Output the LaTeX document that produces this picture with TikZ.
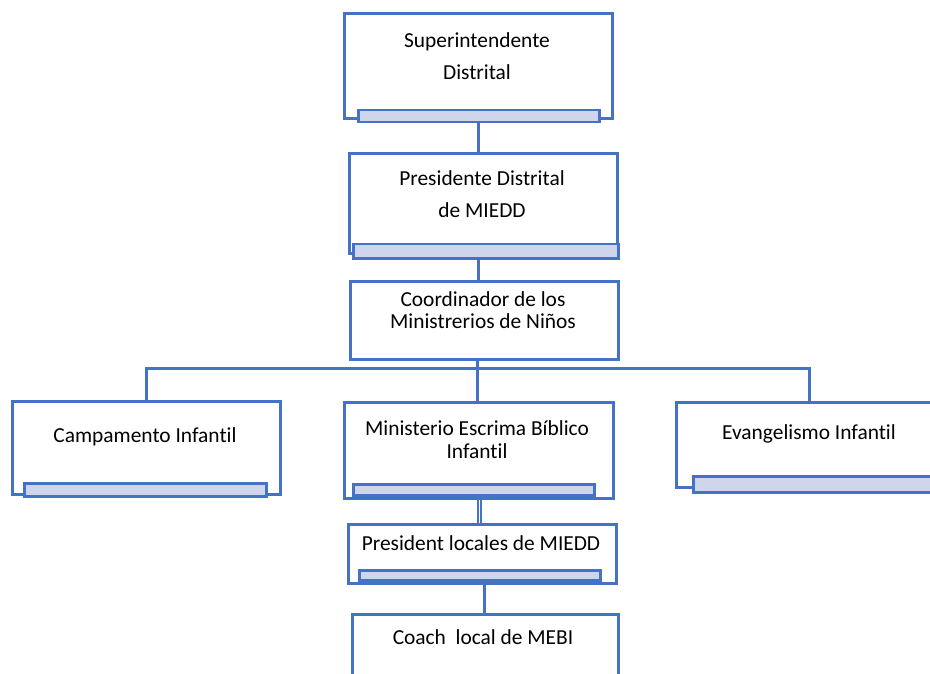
\documentclass[tikz,border=0pt]{standalone}
\usepackage{fontspec}
\setmainfont{Carlito}[Ligatures=NoCommon]
\definecolor{obl}{HTML}{4472C4}
\definecolor{barf}{HTML}{CFD5EA}
\begin{document}
\begin{tikzpicture}[x=1pt,y=-1pt,
  box/.style={draw=obl, line width=2.8pt, fill=white, inner sep=0pt, anchor=north west},
  bar/.style={draw=obl, line width=2.5pt, fill=barf, inner sep=0pt, anchor=north west},
  link/.style={draw=obl, line width=3pt},
  lbl/.style={font=\fontsize{21.4}{23}\selectfont, align=center, text=black}]
\useasboundingbox (0,0) rectangle (930,674);
\clip (0,0) rectangle (930,674);
% boxes
\node[box, minimum width=268pt, minimum height=105pt] (sup) at (343,12) {};
\node[bar, minimum width=241pt, minimum height=12pt] (supbar) at (357,109) {};
\node[box, minimum width=268pt, minimum height=100pt] (pd) at (348,152) {};
\node[bar, minimum width=265pt, minimum height=14pt] (pdbar) at (352,243) {};
\node[box, minimum width=268pt, minimum height=78pt] (coord) at (349,280) {};
\node[box, minimum width=268pt, minimum height=93pt] (camp) at (11,400) {};
\node[bar, minimum width=242pt, minimum height=13pt] (campbar) at (23,482) {};
\node[box, minimum width=269pt, minimum height=96pt] (mebi) at (343,401) {};
\node[bar, minimum width=241pt, minimum height=11pt] (mebibar) at (352,483) {};
\node[box, minimum width=300pt, minimum height=85pt] (evan) at (675,401) {};
\node[bar, minimum width=290pt, minimum height=16pt] (evanbar) at (692,475) {};
\node[box, minimum width=268pt, minimum height=59pt] (pl) at (347,523) {};
\node[bar, minimum width=241pt, minimum height=10pt] (plbar) at (358,569) {};
\node[box, minimum width=266pt, minimum height=100pt] (coach) at (351,613) {};
% labels
\node[lbl, font=\fontsize{21.4}{32}\selectfont] (tsup) at (477,56) {Superintendente\\Distrital};
\node[lbl, font=\fontsize{21.4}{32}\selectfont] (tpd) at (482,194) {Presidente Distrital\\de MIEDD};
\node[lbl, font=\fontsize{21.4}{22}\selectfont] (tcoord) at (483,310) {Coordinador de los\\Ministrerios de Niños};
\node[lbl] (tcamp) at (145,437) {Campamento Infantil};
\node[lbl] (tmebi) at (477,440) {Ministerio Escrima Bíblico\\Infantil};
\node[lbl] (tevan) at (809,434) {Evangelismo Infantil};
\node[lbl] (tpl) at (481,543) {President locales de MIEDD};
\node[lbl] (tcoach) at (483,637) {Coach\ \ local de MEBI};
% connector points
\coordinate (hub) at (477,368);
\coordinate (ev) at (809,368);
\coordinate (dl) at (479.5,0);
\coordinate (cl) at (484,0);
% connectors
\draw[link] (supbar.south) -- (supbar.south |- pd.north);
\draw[link] (sup.south |- pdbar.south) -- (sup.south |- coord.north);
\draw[link] (hub |- coord.south) -- (hub);
\draw[link] (camp.north) |- (hub) -- (ev) -- (ev |- evan.north);
\draw[link] (hub) -- (hub |- mebi.north);
\draw[draw=obl, line width=1.6pt, double=white, double distance=1.6pt] (dl |- mebi.south) -- (dl |- pl.north);
\draw[link] (cl |- pl.south) -- (cl |- coach.north);
\end{tikzpicture}
\end{document}
